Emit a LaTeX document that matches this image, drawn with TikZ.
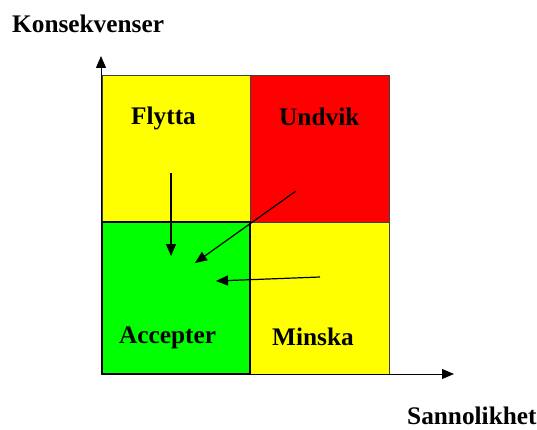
\documentclass[tikz,border=0pt]{standalone}
\usepackage{fontspec}
\setmainfont{Liberation Serif}
\usetikzlibrary{arrows.meta}
\begin{document}
\begin{tikzpicture}[x=1pt,y=-1pt,
  quad/.style={draw=black!75,line width=0.9pt,rectangle,inner sep=0pt,outer sep=0pt,anchor=north west},
  lbl/.style={anchor=base west,inner sep=0pt,font=\fontsize{25.3}{30}\selectfont\bfseries},
  axis/.style={line width=1pt,-{Triangle[length=12pt,width=10pt]}},
  move/.style={line width=1.2pt,-{Triangle[length=12pt,width=10pt]}}]
\useasboundingbox (0,0) rectangle (537,430);
% quadrants
\node[quad,fill={rgb,255:red,255;green,255;blue,0},minimum width=148pt,minimum height=147pt] (flq) at (102,75) {};
\node[quad,fill={rgb,255:red,255;green,0;blue,0},minimum width=139pt,minimum height=147pt] (unq) at (250,75) {};
\node[quad,fill={rgb,255:red,0;green,255;blue,0},minimum width=148pt,minimum height=152pt,draw=black,line width=1.4pt] (acq) at (102,222) {};
\node[quad,fill={rgb,255:red,255;green,255;blue,0},minimum width=139pt,minimum height=152pt] (miq) at (250,222) {};
\draw[line width=1.4pt] (acq.north west) -- (acq.north east) -- (acq.south east);
% axes
\coordinate (o) at (101,374);
\coordinate (ytip) at (101,56);
\coordinate (xtip) at (454,374);
\draw[axis] (o) -- (ytip);
\draw[axis] (o) -- (xtip);
% labels
\node[lbl] (kons) at (12,33) {Konsekvenser};
\node[lbl] (sann) at (407,424) {Sannolikhet};
\node[lbl] (fly) at (131,125) {Flytta};
\node[lbl] (und) at (279,126) {Undvik};
\node[lbl] (acc) at (119,343) {Accepter};
\node[lbl] (min) at (272,345) {Minska};
% moves
\coordinate (f1) at (171,173);
\coordinate (f2) at (171,256);
\coordinate (u1) at (296,191);
\coordinate (u2) at (195,263);
\coordinate (m1) at (320,277);
\coordinate (m2) at (216,281);
\draw[move] (f1) -- (f2);
\draw[move] (u1) -- (u2);
\draw[move] (m1) -- (m2);
\end{tikzpicture}
\end{document}
